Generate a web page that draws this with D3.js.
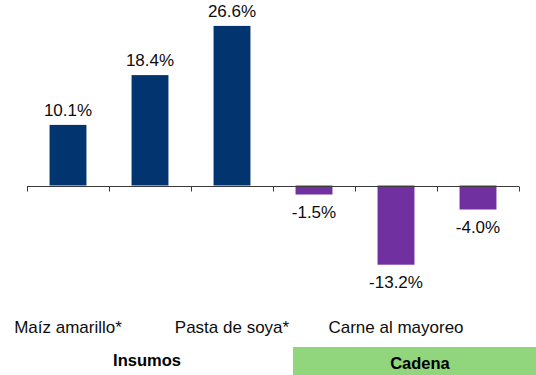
<!DOCTYPE html>
<html>
<head>
<meta charset="utf-8">
<script src="https://cdn.jsdelivr.net/npm/d3@7"></script>
<style>
  html, body { margin: 0; padding: 0; background: #fff; }
  svg { display: block; font-family: "Liberation Sans", Arial, Helvetica, sans-serif; }
</style>
</head>
<body>
<svg id="chart" width="536" height="375"></svg>
<script>
// Annual price change by link in the chain (%)
const categories = ["Maíz amarillo*", "", "Pasta de soya*", "", "Carne al mayoreo", ""];
const values = [10.1, 18.4, 26.6, -1.5, -13.2, -4.0];
const valueLabels = ["10.1%", "18.4%", "26.6%", "-1.5%", "-13.2%", "-4.0%"];
const groups = ["Insumos", "Insumos", "Insumos", "Cadena", "Cadena", "Cadena"];
const groupNames = ["Insumos", "Cadena"];

const colors = { Insumos: "#02356F", Cadena: "#7030A0" };

const svg = d3.select("#chart");
const idx = d3.range(values.length);

// Category slots along the axis, and the bars inside each slot
const xSlot = d3.scaleBand().domain(idx).range([27, 519]).padding(0);
const xBar = d3.scaleBand().domain(idx).range([27, 519]).paddingInner(0.55).paddingOuter(0.275);
const y = d3.scaleLinear().domain([-15, 30]).range([275.5, 5.5]);

// Bars
svg.append("g").selectAll("rect").data(idx).join("rect")
  .attr("x", i => xBar(i))
  .attr("width", xBar.bandwidth())
  .attr("y", i => y(Math.max(0, values[i])))
  .attr("height", i => Math.abs(y(values[i]) - y(0)))
  .attr("fill", i => colors[groups[i]]);

// Baseline with slot ticks
const axis = svg.append("g").attr("stroke", "#3a3a3a").attr("stroke-width", 1);
const y0 = Math.round(y(0)) + 0.5;
axis.append("line")
  .attr("x1", xSlot.range()[0]).attr("x2", xSlot.range()[1])
  .attr("y1", y0).attr("y2", y0);
axis.selectAll("line.tick").data(d3.range(values.length + 1)).join("line")
  .attr("class", "tick")
  .attr("x1", k => Math.round(xSlot.range()[0] + k * xSlot.step()) + 0.5)
  .attr("x2", k => Math.round(xSlot.range()[0] + k * xSlot.step()) + 0.5)
  .attr("y1", y0).attr("y2", y0 + 5);

// Value labels
svg.append("g").selectAll("text").data(idx).join("text")
  .attr("x", i => xBar(i) + xBar.bandwidth() / 2)
  .attr("y", i => values[i] >= 0 ? y(values[i]) - 9 : y(values[i]) + 23)
  .attr("text-anchor", "middle")
  .attr("font-size", 17)
  .attr("fill", "#0d0d0d")
  .text(i => valueLabels[i]);

// Category labels
svg.append("g").selectAll("text").data(idx.filter(i => categories[i])).join("text")
  .attr("x", i => xSlot(i) + xSlot.bandwidth() / 2)
  .attr("y", 333)
  .attr("text-anchor", "middle")
  .attr("font-size", 17)
  .attr("fill", "#0d0d0d")
  .text(i => categories[i]);

// Group band: "Cadena" sits on a green strip
svg.append("rect")
  .attr("x", 293).attr("y", 347)
  .attr("width", 243).attr("height", 28)
  .attr("fill", "#91D57D");

const groupPos = { Insumos: { x: 147, y: 366 }, Cadena: { x: 420, y: 369 } };
svg.append("g").selectAll("text").data(groupNames).join("text")
  .attr("x", g => groupPos[g].x)
  .attr("y", g => groupPos[g].y)
  .attr("text-anchor", "middle")
  .attr("font-size", 16.5)
  .attr("font-weight", "bold")
  .attr("fill", "#000")
  .text(g => g);
</script>
</body>
</html>
